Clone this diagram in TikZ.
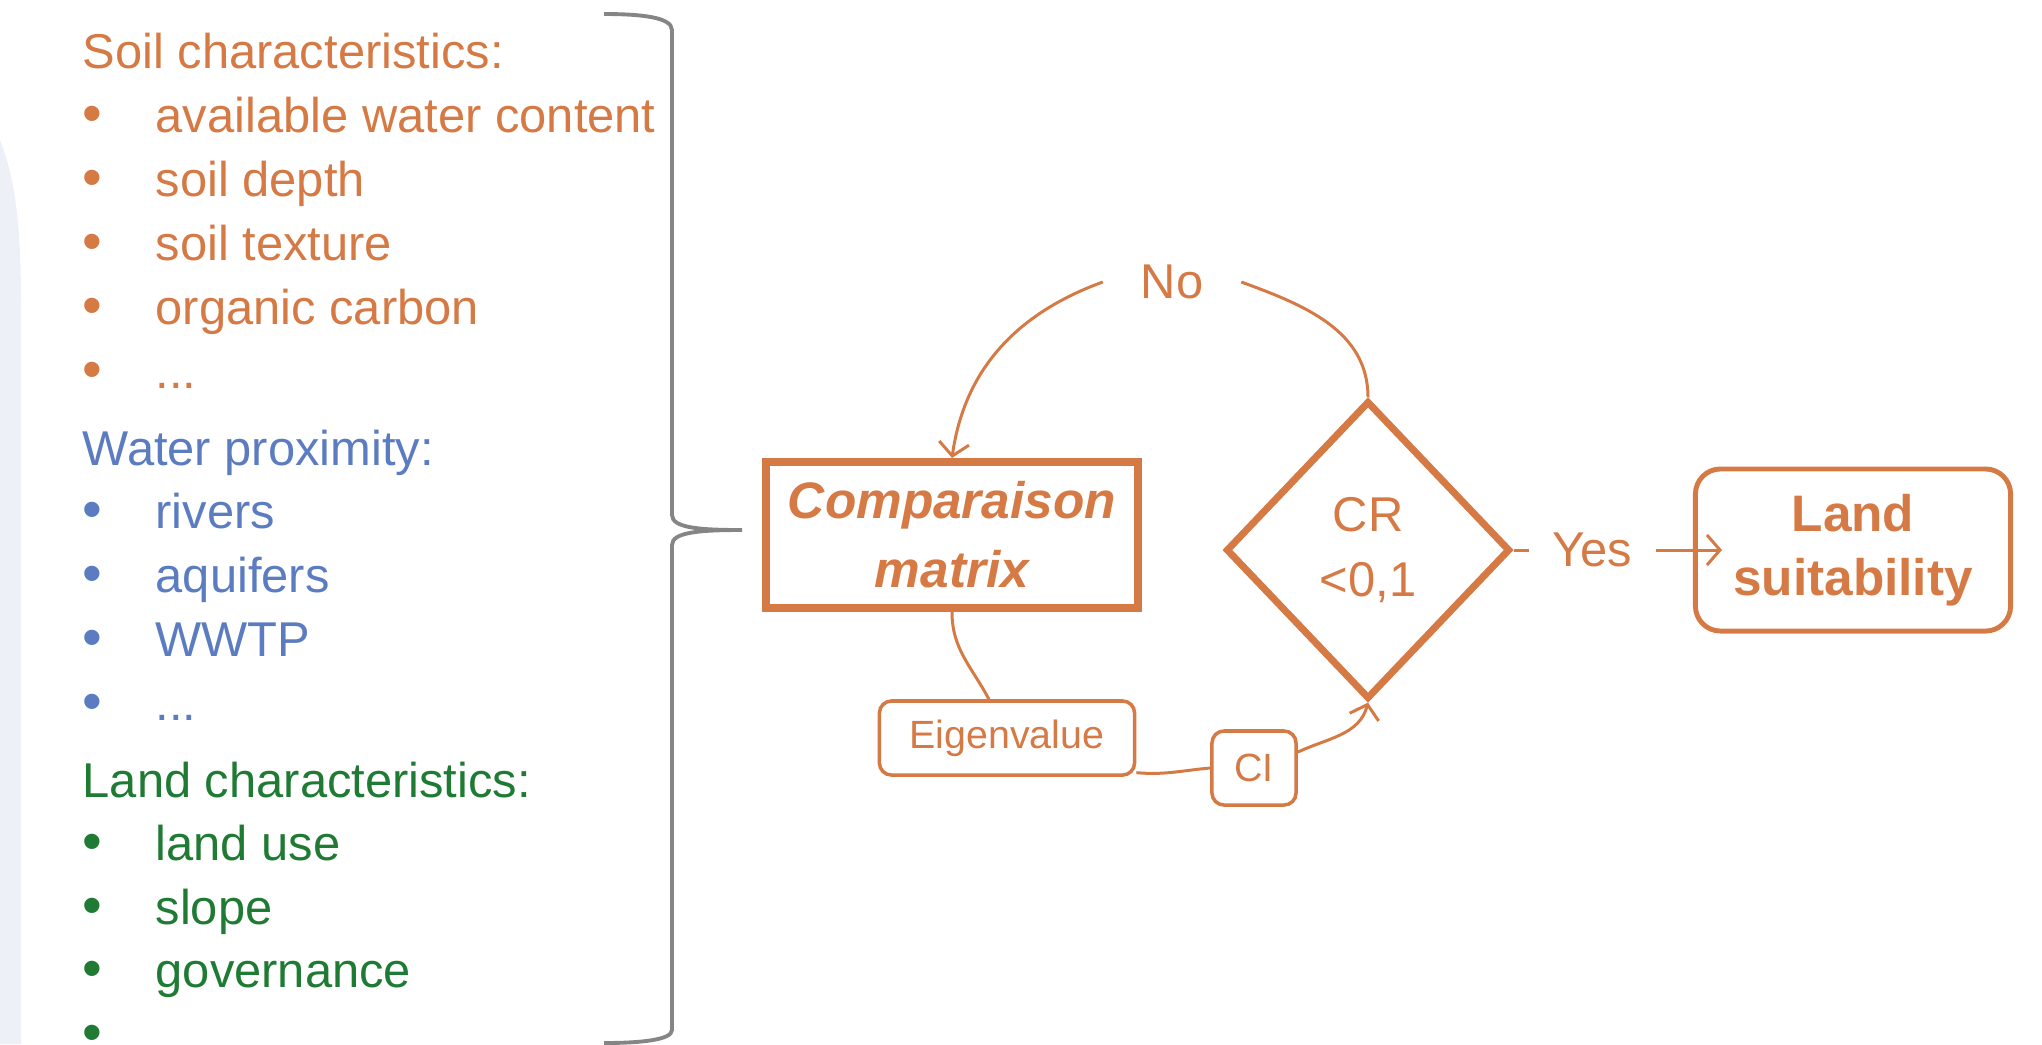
\documentclass[tikz,border=0pt]{standalone}
\usepackage{fontspec}
\setmainfont{Liberation Sans}
\usetikzlibrary{positioning,shapes.geometric,arrows.meta}

\definecolor{soilorange}{HTML}{D57A45}
\definecolor{waterblue}{HTML}{5B7CC0}
\definecolor{landgreen}{HTML}{1F7A33}
\definecolor{bracegray}{HTML}{858585}
\definecolor{panelgray}{HTML}{EDF1F7}

\tikzset{
  listhead/.style={anchor=base west, inner sep=0pt, font=\fontsize{13.9}{16}\selectfont},
  listitem/.style={anchor=base west, inner sep=0pt, font=\fontsize{13.9}{16}\selectfont},
  listdot/.style={anchor=base, inner sep=0pt, font=\fontsize{16}{16}\selectfont},
  matrixbox/.style={draw=soilorange, line width=2.3pt, text=soilorange, align=center,
    minimum width=3.72cm, minimum height=1.46cm, font=\fontsize{14.6}{19.6}\selectfont\bfseries\itshape},
  testshape/.style={diamond, draw=soilorange, line width=2pt, text=soilorange, align=center,
    minimum width=2.84cm, minimum height=2.98cm, inner sep=0pt, font=\fontsize{13.9}{18.4}\selectfont},
  resultbox/.style={draw=soilorange, line width=1.4pt, rounded corners=0.25cm, text=soilorange, align=center,
    minimum width=3.15cm, minimum height=1.62cm, font=\fontsize{14.6}{18.2}\selectfont\bfseries},
  stepbox/.style={draw=soilorange, line width=1pt, rounded corners=0.12cm, text=soilorange,
    minimum height=0.74cm, font=\fontsize{11.2}{13}\selectfont},
  flowlabel/.style={text=soilorange, inner sep=0pt, font=\fontsize{13.9}{16}\selectfont},
  flowline/.style={draw=soilorange, line width=0.85pt},
  flowarrow/.style={flowline, -{Straight Barb[length=0.13cm, width=0.3cm]}},
}

\begin{document}
\begin{tikzpicture}[x=0.01cm, y=0.01cm]
  \useasboundingbox (0,0) rectangle (2042,-1044);

  % Light panel on the left edge
  \fill[panelgray] (0,-140) .. controls (14,-175) and (21,-220) .. (21,-300) -- (21,-1044) -- (0,-1044) -- cycle;

  % Soil characteristics
  \node[listhead, text=soilorange] (soilhead) at (82,-68) {Soil characteristics:};
  \foreach \txt/\yy [count=\i] in {available water content/132, soil depth/196, soil texture/260, organic carbon/324} {
    \node[listdot, text=soilorange] (soildot\i) at (92,-\yy) {•};
    \node[listitem, text=soilorange] (soilitem\i) at (155,-\yy) {\txt};
  }
  \node[listdot, text=soilorange] (soildot5) at (92,-388) {•};
  \node[listitem, text=soilorange] (soilitem5) at (155,-388) {...};

  % Water proximity
  \node[listhead, text=waterblue] (waterhead) at (82,-465) {Water proximity:};
  \foreach \txt/\yy [count=\i] in {rivers/528, aquifers/592, WWTP/656} {
    \node[listdot, text=waterblue] (waterdot\i) at (92,-\yy) {•};
    \node[listitem, text=waterblue] (wateritem\i) at (155,-\yy) {\txt};
  }
  \node[listdot, text=waterblue] (waterdot4) at (92,-720) {•};
  \node[listitem, text=waterblue] (wateritem4) at (155,-720) {...};

  % Land characteristics
  \node[listhead, text=landgreen] (landhead) at (82,-797) {Land characteristics:};
  \foreach \txt/\yy [count=\i] in {land use/860, slope/924, governance/987} {
    \node[listdot, text=landgreen] (landdot\i) at (92,-\yy) {•};
    \node[listitem, text=landgreen] (landitem\i) at (155,-\yy) {\txt};
  }
  \node[listdot, text=landgreen] (landdot4) at (92,-1051) {•};

  % Brace gathering the criteria
  \draw[bracegray, line width=1.1pt] (604,-14) .. controls (640,-14) and (672,-17) .. (672,-30)
    -- (672,-515) .. controls (672,-528) and (700,-530) .. (742,-530)
    .. controls (700,-530) and (672,-532) .. (672,-545)
    -- (672,-1030) .. controls (672,-1040) and (640,-1043) .. (604,-1043);

  % Flow
  \node[matrixbox] (cmp) at (952,-535) {Comparaison\\matrix};
  \node[testshape] (cr) at (1368,-550) {CR\\<0,1};
  \node[resultbox] (land) at (1853,-550) {Land\\suitability};
  \node[stepbox, minimum width=2.55cm] (eig) at (1007,-738) {Eigenvalue};
  \node[stepbox, minimum width=0.84cm] (ci) at (1254,-768) {CI};
  \node[flowlabel, minimum width=1.37cm] (no) at (1172,-282) {No};

  \draw[flowline] (cr.north) to[out=90, in=-20] (no.east);
  \draw[flowarrow] (no.west) to[out=200, in=82] (cmp.north);
  \draw[flowline] (cmp.south) to[out=-90, in=118] (eig.115);
  \draw[flowline] (eig.-15) to[out=-5, in=185] (ci.west);
  \draw[flowarrow] (ci.20) to[out=25, in=-105] (cr.south);
  \draw[flowarrow, shorten >=-0.29cm] (cr.east) -- node[flowlabel, fill=white, minimum width=1.27cm, pos=0.44] (yes) {Yes} (land.west);
\end{tikzpicture}
\end{document}
